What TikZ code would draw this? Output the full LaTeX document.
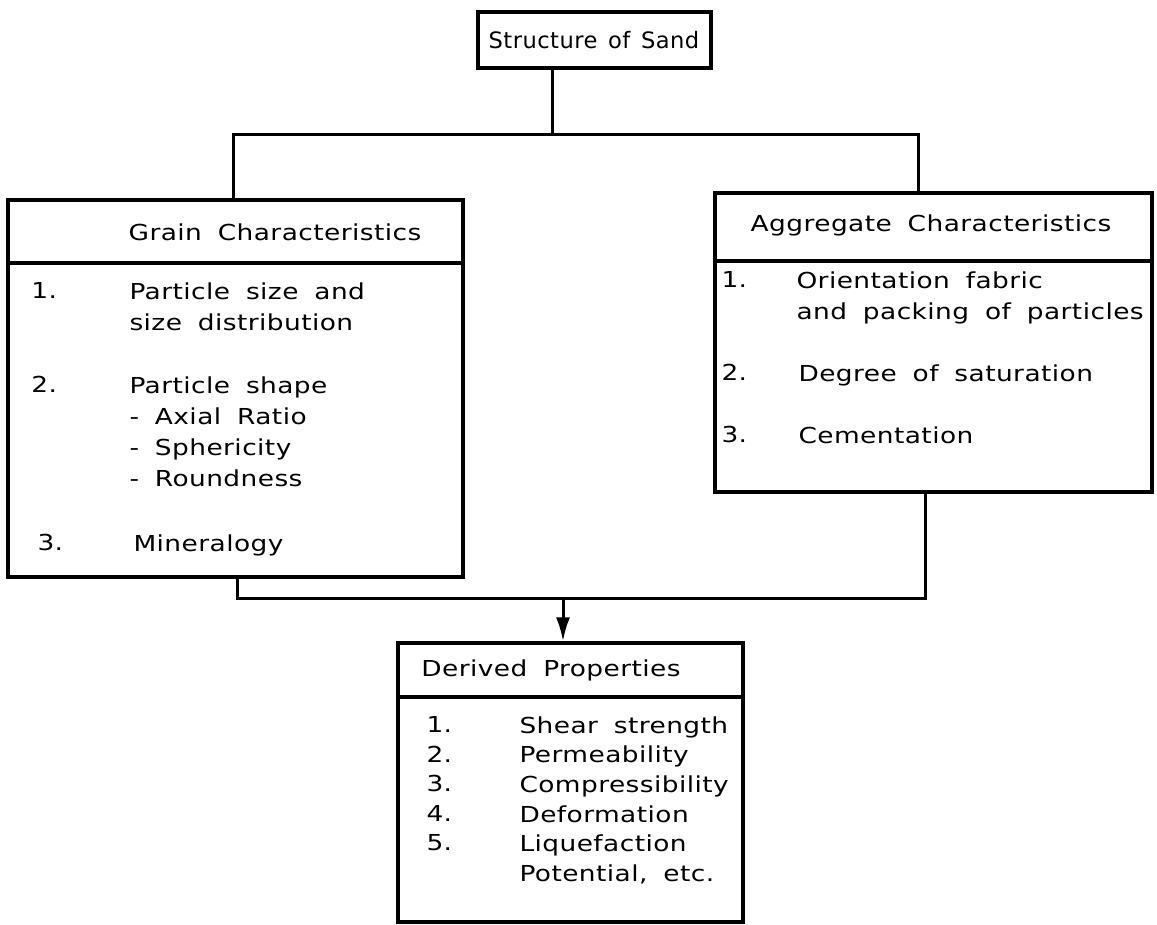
\documentclass[tikz,border=0pt]{standalone}
\usepackage{fontspec}
\setmainfont{DejaVu Sans}[FakeStretch=1.2, LetterSpace=2, WordSpace=1.8]
\newfontfamily\sandfont{DejaVu Sans}[LetterSpace=2, WordSpace=1.4]
\usepackage{tikz}
\usetikzlibrary{arrows.meta, positioning, fit}

\begin{document}
\begin{tikzpicture}[
    x=0.5pt, y=-0.5pt,
    >={Latex[length=12pt,width=7pt]},
    line width=1.5pt,
    every node/.style={font=\fontsize{11}{15.5}\selectfont},
    box/.style={rectangle, draw=black, line width=1.6pt, inner sep=0pt},
    txt/.style={anchor=north west, inner sep=0pt, align=left},
    head/.style={inner sep=0pt}
  ]
    \useasboundingbox (0,0) rectangle (1157,925);

    % top box
    \node[box, fit={(478,12) (711,68)}] (sand) {};
    \node[head, font=\sandfont\fontsize{11.3}{15.5}\selectfont] (sandtitle) at (594,40) {Structure of Sand};

    % grain box
    \node[box, fit={(8,200) (463,577)}] (grain) {};
    \node[box, fit={(8,200) (463,263)}] (grainhead) {};
    \node[head] (graintitle) at (275,232) {Grain Characteristics};
    \node[txt] (gn1) at (30,281) {1.};
    \node[txt] (gt1) at (128,281) {Particle size and\\size distribution};
    \node[txt] (gn2) at (30,375) {2.};
    \node[txt] (gt2) at (128,375) {Particle shape\\- Axial Ratio\\- Sphericity\\- Roundness};
    \node[txt] (gn3) at (36,533) {3.};
    \node[txt] (gt3) at (132,533) {Mineralogy};

    % aggregate box
    \node[box, fit={(715,193) (1152,492)}] (agg) {};
    \node[box, fit={(715,193) (1152,261)}] (agghead) {};
    \node[head] (aggtitle) at (931,225) {Aggregate Characteristics};
    \node[txt] (an1) at (720,270) {1.};
    \node[txt] (at1) at (795,270) {Orientation fabric\\and packing of particles};
    \node[txt] (an2) at (720,363) {2.};
    \node[txt] (at2) at (797,363) {Degree of saturation};
    \node[txt] (an3) at (720,425) {3.};
    \node[txt] (at3) at (797,425) {Cementation};

    % derived box
    \node[box, fit={(398,643) (743,922)}] (derived) {};
    \node[box, fit={(398,643) (743,697)}] (derivedhead) {};
    \node[head] (derivedtitle) at (551,670) {Derived Properties};
    \node[txt, font=\fontsize{11}{14.8}\selectfont] (dn) at (425,715) {1.\\2.\\3.\\4.\\5.};
    \node[txt, font=\fontsize{11}{14.8}\selectfont] (dt) at (518,715) {Shear strength\\Permeability\\Compressibility\\Deformation\\Liquefaction\\Potential, etc.};

    % connectors
    \coordinate (busmid) at (552,135);
    \coordinate (busL) at (233,135);
    \coordinate (busR) at (918,135);
    \coordinate (lowL) at (237,598);
    \coordinate (lowR) at (925,598);
    \coordinate (drop) at (563,598);
    \draw (sand.south -| busmid) -- (busmid);
    \draw (busL |- grain.north) -- (busL) -- (busR) -- (busR |- agg.north);
    \draw (grain.south -| lowL) -- (lowL) -- (lowR) -- (agg.south -| lowR);
    \draw[->] (drop) -- (drop |- derived.north);
  \end{tikzpicture}
\end{document}
